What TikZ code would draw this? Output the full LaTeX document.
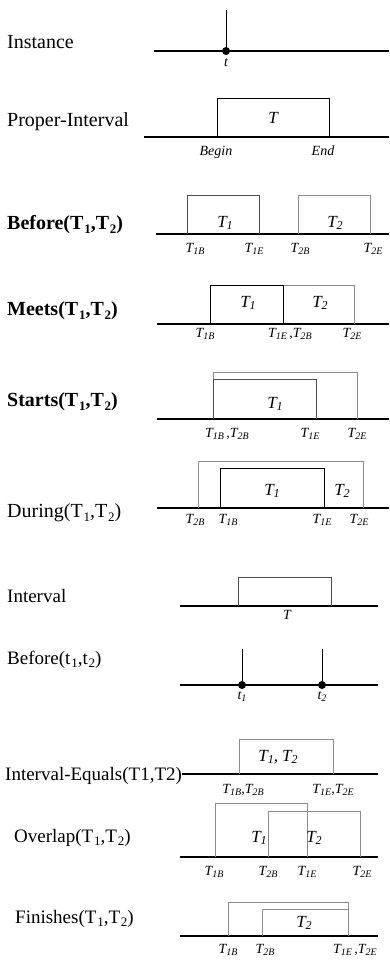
\documentclass[tikz,border=0pt]{standalone}
\usepackage{fontspec}
\usepackage{graphicx}
\setmainfont{Liberation Serif}
% tick label: italic letter with italic subscript
\newcommand\tlab[2]{\textit{#1}\raisebox{-0.35ex}{\fontsize{10}{11}\selectfont\textit{#2}}}
% inner label
\newcommand\ilab[2]{\textit{#1}\raisebox{-0.35ex}{\fontsize{12}{13}\selectfont\textit{#2}}}
% title subscript
\newcommand\msub[1]{\kern0.8pt\raisebox{-0.45ex}{\fontsize{13}{14}\selectfont #1}}
\begin{document}
\begin{tikzpicture}[x=1pt,y=-1pt,
  title/.style={anchor=base west, inner sep=0pt, font=\fontsize{19}{22}\selectfont},
  bigtitle/.style={anchor=base west, inner sep=0pt, font=\fontsize{20}{23}\selectfont},
  boldtitle/.style={anchor=base west, inner sep=0pt, font=\fontsize{20}{23}\selectfont\bfseries},
  axisline/.style={line width=1.2pt, black},
  solidbox/.style={line width=0.9pt, black},
  midbox/.style={line width=0.8pt, black!70},
  faintbox/.style={line width=0.8pt, black!45},
  ticklab/.style={anchor=base, inner sep=0pt, font=\fontsize{14}{16}\selectfont\itshape},
  inlab/.style={anchor=base, inner sep=0pt, font=\fontsize{17}{19}\selectfont\itshape},
  dotmark/.style={circle, fill=black, inner sep=0pt, minimum size=8pt},
  vline/.style={line width=0.9pt, black}]
\useasboundingbox (0,0) rectangle (389,964);

% ---------- Instance
\node[bigtitle] (l1) at (7,48) {Instance};
\draw[axisline] (154,51) -- (389,51);
\node[dotmark] (ti) at (226,51) {};
\coordinate (tiTop) at (226,10);
\draw[vline] (tiTop) -- (ti.center);
\node[ticklab] (tlab) at (226,66) {t};

% ---------- Proper-Interval
\node[bigtitle] (l2) at (7,126) {Proper-Interval};
\draw[axisline] (144,137) -- (389,137);
\draw[solidbox] (217,137) -- (217,98) -- (329,98) -- (329,137);
\node[inlab] (pT) at (273,123) {T};
\node[ticklab] (pB) at (216,155) {Begin};
\node[ticklab] (pE) at (323,155) {End};

% ---------- Before(T1,T2)
\node[boldtitle] (l3) at (7,229) {Before(T\msub{1},T\msub{2})};
\draw[axisline] (156,234) -- (389,234);
\draw[midbox] (187,234) -- (187,195) -- (259,195) -- (259,234);
\draw[faintbox] (298,234) -- (298,195) -- (370,195) -- (370,234);
\node[inlab] (bT1) at (225,227) {\ilab{T}{1}};
\node[inlab] (bT2) at (335,227) {\ilab{T}{2}};
\node[ticklab] (b1) at (195,252) {\tlab{T}{1B}};
\node[ticklab] (b2) at (254,252) {\tlab{T}{1E}};
\node[ticklab] (b3) at (300,252) {\tlab{T}{2B}};
\node[ticklab] (b4) at (373,252) {\tlab{T}{2E}};

% ---------- Meets(T1,T2)
\node[boldtitle] (l4) at (7,315) {Meets(T\msub{1},T\msub{2})};
\draw[axisline] (157,324) -- (389,324);
\draw[faintbox] (283,285) -- (354,285) -- (354,324);
\draw[solidbox] (210,324) -- (210,285) -- (283,285) -- (283,324);
\node[inlab] (mT1) at (248,307) {\ilab{T}{1}};
\node[inlab] (mT2) at (320,307) {\ilab{T}{2}};
\node[ticklab] (m1) at (205,337) {\tlab{T}{1B}};
\node[ticklab] (m2) at (290,337) {\tlab{T}{1E}\,,\tlab{T}{2B}};
\node[ticklab] (m3) at (352,337) {\tlab{T}{2E}};

% ---------- Starts(T1,T2)
\node[boldtitle] (l5) at (7,406) {Starts(T\msub{1},T\msub{2})};
\draw[axisline] (157,419) -- (389,419);
\draw[faintbox] (213,419) -- (213,372) -- (357,372) -- (357,419);
\draw[midbox] (213,419) -- (213,379) -- (316,379) -- (316,419);
\node[inlab] (sT1) at (275,408) {\ilab{T}{1}};
\node[ticklab] (s1) at (227,437) {\tlab{T}{1B}\,,\tlab{T}{2B}};
\node[ticklab] (s2) at (310,437) {\tlab{T}{1E}};
\node[ticklab] (s3) at (357,437) {\tlab{T}{2E}};

% ---------- During(T1,T2)
\node[bigtitle] (l6) at (7,517) {During(T\msub{1},T\msub{2})};
\draw[axisline] (157,508) -- (389,508);
\draw[faintbox] (198,508) -- (198,461) -- (363,461) -- (363,508);
\draw[solidbox] (220,508) -- (220,468) -- (324,468) -- (324,508);
\node[inlab] (dT1) at (272,495) {\ilab{T}{1}};
\node[inlab] (dT2) at (342,495) {\ilab{T}{2}};
\node[ticklab] (d1) at (195,523) {\tlab{T}{2B}};
\node[ticklab] (d2) at (228,523) {\tlab{T}{1B}};
\node[ticklab] (d3) at (322,523) {\tlab{T}{1E}};
\node[ticklab] (d4) at (359,523) {\tlab{T}{2E}};

% ---------- Interval
\node[title] (l7) at (7,602) {Interval};
\draw[axisline] (180,606) -- (378,606);
\draw[midbox] (238,606) -- (238,577) -- (331,577) -- (331,606);
\node[ticklab] (iT) at (287,619) {T};

% ---------- Before(t1,t2)
\node[title] (l8) at (7,664) {Before(t\msub{1},t\msub{2})};
\draw[axisline] (180,685) -- (378,685);
\node[dotmark] (t1) at (242,685) {};
\node[dotmark] (t2) at (322,685) {};
\coordinate (t1Top) at (242,649);
\coordinate (t2Top) at (322,649);
\draw[vline] (t1Top) -- (t1.center);
\draw[vline] (t2Top) -- (t2.center);
\node[ticklab] (t1l) at (242,699) {\tlab{t}{1}};
\node[ticklab] (t2l) at (322,699) {\tlab{t}{2}};

% ---------- Interval-Equals(T1,T2)
\node[title] (l9) at (5,780) {Interval-Equals(T1,T2)};
\draw[axisline] (182,774) -- (378,774);
\draw[faintbox] (239,774) -- (239,739) -- (333,739) -- (333,774);
\node[inlab] (eT) at (278,761) {\ilab{T}{1}, \ilab{T}{2}};
\node[ticklab] (e1) at (243,793) {\tlab{T}{1B},\tlab{T}{2B}};
\node[ticklab] (e2) at (333,793) {\tlab{T}{1E},\tlab{T}{2E}};

% ---------- Overlap(T1,T2)
\node[title] (l10) at (14,842) {Overlap(T\msub{1},T\msub{2})};
\draw[axisline] (180,857) -- (378,857);
\draw[faintbox] (215,857) -- (215,803) -- (307,803) -- (307,857);
\draw[faintbox] (268,857) -- (268,811) -- (360,811) -- (360,857);
\node[inlab] (oT1) at (259,842) {\ilab{T}{1}};
\node[inlab] (oT2) at (314,842) {\ilab{T}{2}};
\node[ticklab] (o1) at (214,875) {\tlab{T}{1B}};
\node[ticklab] (o2) at (268,875) {\tlab{T}{2B}};
\node[ticklab] (o3) at (307,875) {\tlab{T}{1E}};
\node[ticklab] (o4) at (362,875) {\tlab{T}{2E}};

% ---------- Finishes(T1,T2)
\node[title] (l11) at (15,923) {Finishes(T\msub{1},T\msub{2})};
\draw[axisline] (180,936) -- (378,936);
\draw[faintbox] (228,936) -- (228,902) -- (348,902) -- (348,936);
\draw[faintbox] (262,936) -- (262,909) -- (348,909);
\node[inlab] (fT2) at (304,927) {\ilab{T}{2}};
\node[ticklab] (f1) at (228,953) {\tlab{T}{1B}};
\node[ticklab] (f2) at (265,953) {\tlab{T}{2B}};
\node[ticklab] (f3) at (355,953) {\tlab{T}{1E}\,,\tlab{T}{2E}};
\end{tikzpicture}
\end{document}
